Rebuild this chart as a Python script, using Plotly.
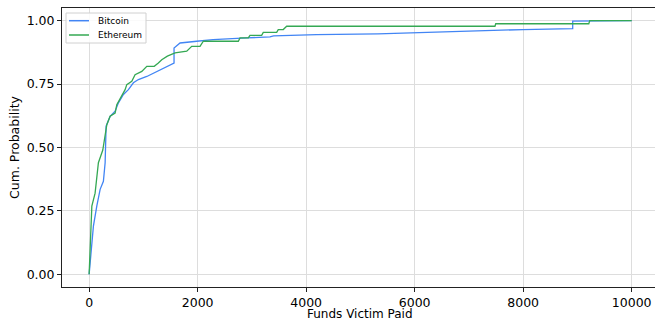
import plotly.graph_objects as go

# Bitcoin empirical CDF (funds paid, cumulative probability)
btc_x = [0, 79, 142, 203, 263, 295, 313, 387, 479, 540, 632, 724, 816, 908, 1063, 1247, 1368,
         1565, 1565, 1676, 1983, 2284, 2904, 3333, 3400, 4193, 5322, 6280, 6832, 7993, 8913, 8913, 10000]
btc_y = [0.0, 0.19, 0.27, 0.335, 0.367, 0.44, 0.584, 0.623, 0.643, 0.676, 0.709, 0.728, 0.755, 0.768, 0.78, 0.80, 0.814,
         0.833, 0.892, 0.912, 0.919, 0.925, 0.932, 0.936, 0.940, 0.945, 0.948, 0.954, 0.960, 0.965, 0.969, 0.998, 1.0]

# Ethereum empirical CDF
eth_x = [0, 30, 50, 110, 171, 252, 295, 326, 387, 479, 510, 602, 663, 694, 786, 847, 971, 1063, 1200, 1276,
         1339, 1442, 1584, 1799, 1891, 2044, 2105, 2750, 2781, 2934, 2965, 3180, 3210, 3457, 3486, 3578, 3641,
         7480, 7495, 9210, 9227, 10000]
eth_y = [0.0, 0.18, 0.269, 0.32, 0.44, 0.49, 0.544, 0.59, 0.623, 0.636, 0.669, 0.702, 0.728, 0.748, 0.761, 0.787, 0.80, 0.82, 0.82, 0.833,
         0.846, 0.86, 0.873, 0.88, 0.899, 0.899, 0.919, 0.919, 0.932, 0.932, 0.942, 0.942, 0.954, 0.954, 0.965, 0.965, 0.978,
         0.978, 0.988, 0.988, 1.0, 1.0]

series_names = ["Bitcoin", "Ethereum"]
series_colors = ["#4285F4", "#34A853"]

x_ticks = [0, 2000, 4000, 6000, 8000, 10000]
y_ticks = [0.0, 0.25, 0.5, 0.75, 1.0]
y_tick_labels = ["0.00", "0.25", "0.50", "0.75", "1.00"]
x_title = "Funds Victim Paid"
y_title = "Cum. Probability"

font = "DejaVu Sans, sans-serif"
W, H = 655, 322
L, R, T, B = 62, 0, 8, 35
pw, ph = W - L - R, H - T - B

def px_x(p):
    return (p - L) / pw

def px_y(p):
    return (H - B - p) / ph

fig = go.Figure()
for name, xs, ys, col in zip(series_names, [btc_x, eth_x], [btc_y, eth_y], series_colors):
    fig.add_trace(go.Scatter(x=xs, y=ys, mode="lines", name=name,
                             line=dict(color=col, width=1.3), showlegend=False))

# custom compact legend (matplotlib style)
shapes = [dict(type="rect", xref="paper", yref="paper",
               x0=px_x(66), x1=px_x(146), y0=px_y(43), y1=px_y(13),
               line=dict(color="#d0d0d0", width=1), fillcolor="rgba(255,255,255,0.85)", layer="above")]
annotations = []
for i, (name, col) in enumerate(zip(series_names, series_colors)):
    yy = px_y(20.7 + i * 14.3)
    shapes.append(dict(type="line", xref="paper", yref="paper", x0=px_x(69), x1=px_x(89),
                       y0=yy, y1=yy, line=dict(color=col, width=1.5), layer="above"))
    annotations.append(dict(xref="paper", yref="paper", x=px_x(95.5), y=yy, text=name,
                            showarrow=False, xanchor="left", yanchor="middle",
                            font=dict(size=9, family=font, color="black")))

# x-axis title placed as text below the tick labels
annotations.append(dict(xref="paper", yref="paper", x=px_x(360), y=px_y(314), text=x_title,
                        showarrow=False, xanchor="center", yanchor="middle", borderpad=0,
                        font=dict(size=12, family=font, color="black")))

fig.update_layout(
    width=W, height=H,
    margin=dict(l=L, r=R, t=T, b=B),
    paper_bgcolor="white", plot_bgcolor="white",
    font=dict(family=font, size=12.5, color="black"),
    showlegend=False,
    shapes=shapes, annotations=annotations,
)
fig.update_xaxes(
    range=[-500, 10430], tickvals=x_ticks, ticktext=[str(v) for v in x_ticks],
    showgrid=True, gridcolor="#dddddd", gridwidth=1, zeroline=False,
    showline=True, linecolor="#222222", linewidth=1, mirror=True,
    ticks="outside", ticklen=4, tickcolor="#222222", automargin=False,
    tickfont=dict(size=12.5),
)
fig.update_yaxes(
    range=[-0.05, 1.05], tickvals=y_ticks, ticktext=y_tick_labels,
    showgrid=True, gridcolor="#dddddd", gridwidth=1, zeroline=False,
    showline=True, linecolor="#222222", linewidth=1, mirror=False,
    ticks="outside", ticklen=4, tickcolor="#222222", automargin=False,
    title=dict(text=y_title, font=dict(size=12.5), standoff=4),
    tickfont=dict(size=12.5),
)

fig.write_html("out.html", config={"displayModeBar": False},
               post_script="document.body.style.margin='0';document.body.style.overflow='hidden';")
